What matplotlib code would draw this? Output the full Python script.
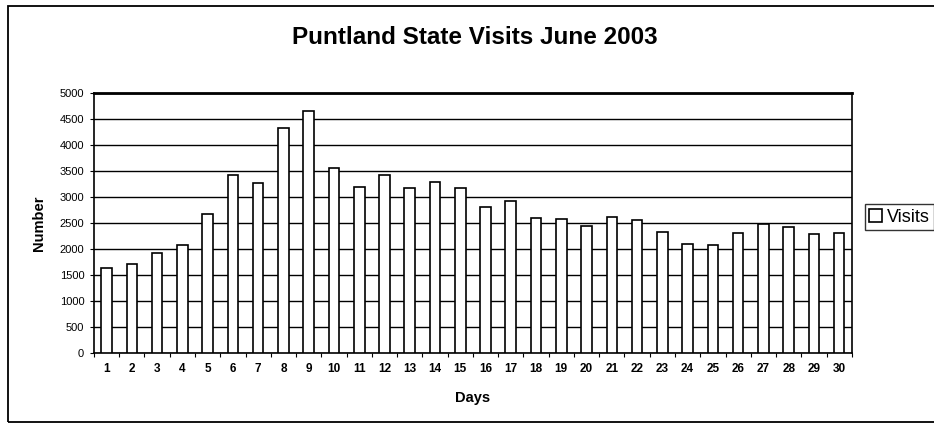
import matplotlib
matplotlib.use("Agg")
import matplotlib.pyplot as plt
from matplotlib.patches import Rectangle

plt.rcParams['font.family'] = ['Liberation Sans', 'DejaVu Sans']

days = list(range(1, 31))
visits = [1630, 1720, 1920, 2070, 2670, 3420, 3270, 4330, 4660, 3550,
          3200, 3430, 3180, 3290, 3170, 2800, 2920, 2600, 2570, 2450,
          2620, 2560, 2320, 2100, 2070, 2300, 2480, 2420, 2290, 2300]
y_ticks = list(range(0, 5001, 500))

fig = plt.figure(figsize=(9.34, 4.25), dpi=100)
ax = fig.add_axes([0.1006, 0.1694, 0.8114, 0.6116])

# outer chart frame
fig.patches.append(Rectangle((0.009, 0.008), 0.995, 0.979, transform=fig.transFigure,
                             fill=False, edgecolor='black', linewidth=1.3))

ax.bar(days, visits, width=0.42, color='white', edgecolor='black',
       linewidth=1.2, label='Visits', zorder=3)

ax.set_xlim(0.5, 30.5)
ax.set_ylim(0, 5000)
ax.set_yticks(y_ticks)
ax.set_xticks(days)
ax.set_xticks([d + 0.5 for d in range(0, 31)], minor=True)
ax.yaxis.grid(True, color='black', linewidth=1.0, zorder=0)
ax.set_axisbelow(True)

ax.tick_params(axis='x', which='major', length=0, pad=7, labelsize=8.5)
ax.tick_params(axis='x', which='minor', length=3, direction='out', width=0.8)
ax.tick_params(axis='y', length=3, direction='out', width=0.8, labelsize=8, pad=4)
for lbl in ax.get_xticklabels():
    lbl.set_fontweight('bold')

for side in ['top', 'right', 'left', 'bottom']:
    ax.spines[side].set_linewidth(1.2)
ax.spines['top'].set_linewidth(2.0)

ax.set_xlabel('Days', fontsize=10.5, fontweight='bold', labelpad=12)
ax.set_ylabel('Number', fontsize=10.5, fontweight='bold', labelpad=10)
fig.text(0.508, 0.912, 'Puntland State Visits June 2003', ha='center', va='center',
         fontsize=17.5, fontweight='bold')

leg = ax.legend(loc='center left', bbox_to_anchor=(0.926, 0.489),
                bbox_transform=fig.transFigure, fontsize=13, frameon=True,
                fancybox=False, edgecolor='black', handlelength=0.7,
                handleheight=0.7, handletextpad=0.25, borderpad=0.25,
                borderaxespad=0)
leg.get_frame().set_linewidth(1.0)

fig.savefig('out.png', dpi=100)
